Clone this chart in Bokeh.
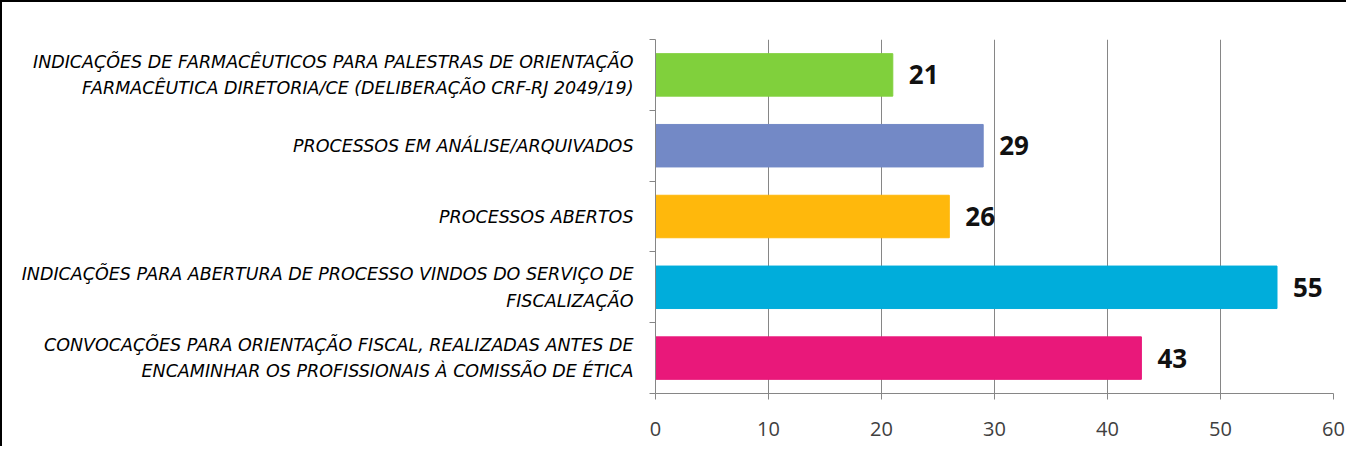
from bokeh.plotting import figure
from bokeh.models import Range1d, FixedTicker, ColumnDataSource
from bokeh.core.properties import value
from bokeh.embed import file_html
from bokeh.resources import INLINE

categories = [
    "INDICAÇÕES DE FARMACÊUTICOS PARA PALESTRAS DE ORIENTAÇÃO\nFARMACÊUTICA DIRETORIA/CE (DELIBERAÇÃO CRF-RJ 2049/19)",
    "PROCESSOS EM ANÁLISE/ARQUIVADOS",
    "PROCESSOS ABERTOS",
    "INDICAÇÕES PARA ABERTURA DE PROCESSO VINDOS DO SERVIÇO DE\nFISCALIZAÇÃO",
    "CONVOCAÇÕES PARA ORIENTAÇÃO FISCAL, REALIZADAS ANTES DE\nENCAMINHAR OS PROFISSIONAIS À COMISSÃO DE ÉTICA",
]
values = [21, 29, 26, 55, 43]
colors = ["#80D03C", "#7389C6", "#FFB80C", "#00ADDB", "#E9187A"]
x_ticks = [0, 10, 20, 30, 40, 50, 60]

n = len(categories)
ys = [n - i - 0.5 for i in range(n)]

src = ColumnDataSource(dict(y=ys, v=values, c=colors, t=[str(v) for v in values]))

p = figure(width=1346, height=446, output_backend="svg", toolbar_location=None,
           x_range=Range1d(0, 60), y_range=Range1d(0, n),
           min_border_left=653, min_border_top=37, min_border_right=15, min_border_bottom=55,
           outline_line_color=None)
p.styles = {"border-top": "2px solid #000", "border-left": "2px solid #000"}

p.hbar(y="y", right="v", left=0, height=0.6, color="c", source=src)
p.text(x="v", y="y", text="t", source=src, x_offset=16, text_align="left", text_baseline="middle",
       text_font=value("Open Sans"), text_font_style="bold", text_font_size="26px", text_color="#111111")

p.xaxis.ticker = FixedTicker(ticks=x_ticks)
p.xaxis.axis_line_color = "#868686"
p.xaxis.major_tick_line_color = "#868686"
p.xaxis.major_tick_out = 6
p.xaxis.major_tick_in = 0
p.xaxis.minor_tick_line_color = None
p.xaxis.major_label_text_font = "Open Sans"
p.xaxis.major_label_text_font_size = "20px"
p.xaxis.major_label_text_color = "#404040"
p.xaxis.major_label_standoff = 22

p.yaxis.ticker = FixedTicker(ticks=ys, minor_ticks=list(range(n + 1)))
p.yaxis.major_label_overrides = {y: c for y, c in zip(ys, categories)}
p.yaxis.axis_line_color = "#868686"
p.yaxis.major_tick_line_color = None
p.yaxis.minor_tick_line_color = "#868686"
p.yaxis.minor_tick_out = 6
p.yaxis.minor_tick_in = 0
p.yaxis.major_label_standoff = 16
p.yaxis.major_label_text_font = "DejaVu Sans"
p.yaxis.major_label_text_font_style = "italic"
p.yaxis.major_label_text_font_size = "17.5px"
p.yaxis.major_label_text_color = "#000000"
p.yaxis.major_label_text_line_height = 1.32

p.xgrid.ticker = FixedTicker(ticks=x_ticks)
p.xgrid.grid_line_color = "#868686"
p.ygrid.grid_line_color = None

open("out.html", "w").write(file_html(p, INLINE))
